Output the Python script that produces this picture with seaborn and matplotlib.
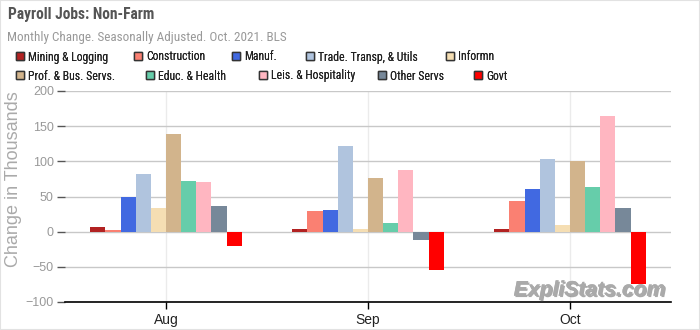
import matplotlib
matplotlib.use('Agg')
import matplotlib.pyplot as plt
import matplotlib.patheffects as pe
from matplotlib import font_manager as fm
from matplotlib.patches import Patch, Rectangle
import seaborn as sns
import pandas as pd

months = ['Aug', 'Sep', 'Oct']
sectors = ['Mining & Logging', 'Construction', 'Manuf.', 'Trade. Transp, & Utils', 'Informn',
           'Prof. & Bus. Servs.', 'Educ. & Health', 'Leis. & Hospitality', 'Other Servs', 'Govt']
colors = ['#B22222', '#FA8072', '#4169E1', '#B0C4DE', '#F5DEB3',
          '#D2B48C', '#66CDAA', '#FFB6C1', '#778899', '#FF0000']

mining = [7, 4, 4]
construction = [2, 29, 44]
manuf = [49, 31, 61]
trade = [82, 122, 103]
informn = [34, 4, 10]
prof = [139, 76, 101]
educ = [72, 12, 64]
leis = [71, 88, 165]
other = [37, -12, 34]
govt = [-21, -54, -74]

series = [mining, construction, manuf, trade, informn, prof, educ, leis, other, govt]
rows = []
for name, vals in zip(sectors, series):
    for m, v in zip(months, vals):
        rows.append({'month': m, 'sector': name, 'value': v})
df = pd.DataFrame(rows)
pal = dict(zip(sectors, colors))

sns.set_style('white')
plt.rcParams['font.family'] = ['Liberation Sans', 'DejaVu Sans']


def has_font(name):
    try:
        fm.findfont(fm.FontProperties(family=name), fallback_to_default=False)
        return True
    except Exception:
        return False


REG = ['Liberation Sans', 'DejaVu Sans']
COND = REG
for cand in ['Roboto Condensed', 'PT Sans Narrow', 'Archivo Narrow', 'Open Sans Condensed']:
    if has_font(cand):
        COND = [cand, 'Liberation Sans', 'DejaVu Sans']
        break

W, H = 700, 330
fig = plt.figure(figsize=(7, 3.3), dpi=100)
renderer = fig.canvas.get_renderer()


def fit_size(s, family, target_px, **kw):
    t = fig.text(0, 0, s, fontsize=10, family=family, **kw)
    w = t.get_window_extent(renderer).width
    t.remove()
    return 10 * target_px / w


ax = fig.add_axes([65/W, 28/H, 606/W, 211/H])

sns.barplot(data=df, x='month', y='value', hue='sector', order=months, hue_order=sectors,
            palette=pal, saturation=1, width=0.75, linewidth=0, errorbar=None,
            legend=False, ax=ax)

ax.set_xlim(-0.5, 2.5)
ax.set_ylim(-100, 200)
ax.set_yticks(range(-100, 201, 50))
ax.set_axisbelow(True)
ax.yaxis.grid(True, color='#c8c8c8', lw=1)
ax.xaxis.grid(True, color='#ebebeb', lw=1)
for s in ['top', 'right', 'left']:
    ax.spines[s].set_visible(False)
ax.spines['bottom'].set_color('black')
ax.spines['bottom'].set_linewidth(1.2)
ax.tick_params(axis='y', length=6, width=1, color='#555555', labelcolor='#999999',
               labelsize=9, direction='out', pad=2, left=True)
ax.tick_params(axis='x', length=5, width=1, color='black', labelcolor='#222222',
               labelsize=10, direction='out', pad=3, bottom=True)
ax.set_xlabel('')
ax.set_ylabel('')

ylab = 'Change in Thousands'
fig.text(14/W, 1 - 179/H, ylab, rotation=90, ha='center', va='center',
         fontsize=fit_size(ylab, REG, 176), family=REG, color='#aaaaaa')

title = 'Payroll Jobs: Non-Farm'
fig.text(8/W, 1 - 19/H, title, va='baseline', ha='left', family=COND,
         fontsize=fit_size(title, COND, 147, fontweight='bold'),
         fontweight='bold', color='#555555')
sub = 'Monthly Change. Seasonally Adjusted. Oct. 2021. BLS'
fig.text(7/W, 1 - 41/H, sub, va='baseline', ha='left', family=COND,
         fontsize=fit_size(sub, COND, 280), color='#999999')

leg_size = fit_size(sectors[0], COND, 81)
px = leg_size * 100 / 72
leg_x = [16, 134, 232, 306, 446, 16, 146, 259, 378, 474]
leg_y = [57] * 5 + [76] * 5
for name, c, x, y in zip(sectors, colors, leg_x, leg_y):
    h = Patch(facecolor=c, edgecolor='#333333', linewidth=1)
    leg = fig.legend([h], [name], loc='center left', bbox_to_anchor=(x/W, 1 - y/H),
                     frameon=False, borderpad=0, borderaxespad=0,
                     handlelength=8/px, handleheight=8/px, handletextpad=4/px,
                     prop={'family': COND, 'size': leg_size})
    for t in leg.get_texts():
        t.set_color('#222222')
    fig.add_artist(leg)

wm = 'ExpliStats.com'
ax.text(0.99, 0.03, wm, transform=ax.transAxes, ha='right', va='baseline',
        fontsize=fit_size(wm, REG, 152, fontweight='bold', fontstyle='italic'),
        family=REG, fontweight='bold', fontstyle='italic', color='#aaaaaa',
        path_effects=[pe.withSimplePatchShadow(offset=(1, -1), shadow_rgbFace='#555555', alpha=0.5),
                      pe.Normal()])

fig.patches.append(Rectangle((0, 0), 1, 1, transform=fig.transFigure, fill=False,
                             edgecolor='#e2e2e2', lw=1.5))

fig.savefig('out.png', dpi=100)
